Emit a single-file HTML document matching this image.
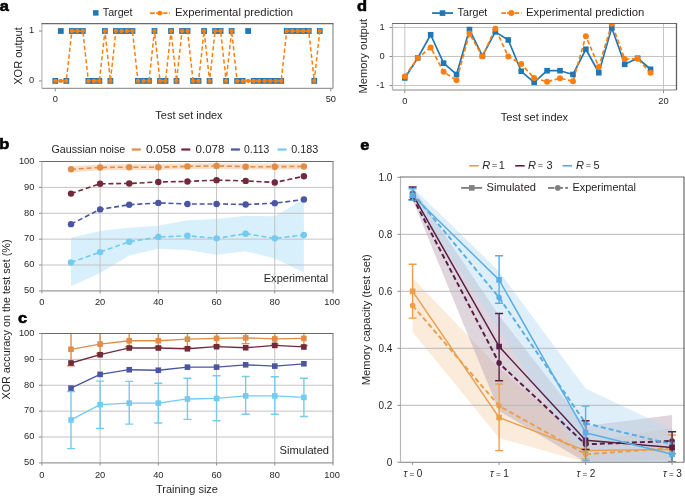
<!DOCTYPE html>
<html><head><meta charset="utf-8"><style>
html,body{margin:0;padding:0;background:#fff;}
svg{display:block;will-change:transform;}
text{font-family:"Liberation Sans",sans-serif;}
</style></head><body>
<svg width="685" height="496" viewBox="0 0 685 496">
<rect width="685" height="496" fill="#fff"/>
<line x1="41.90" y1="88.30" x2="333.00" y2="88.30" stroke="#9a9a9a" stroke-width="1.15" />
<line x1="41.90" y1="23.60" x2="41.90" y2="88.30" stroke="#b5b5b5" stroke-width="1.15" />
<line x1="333.00" y1="23.60" x2="333.00" y2="88.30" stroke="#8a8a8a" stroke-width="1.15" />
<line x1="41.40" y1="23.60" x2="333.50" y2="23.60" stroke="#6a6a6a" stroke-width="1.15" />
<line x1="38.90" y1="80.90" x2="41.90" y2="80.90" stroke="#8a8a8a" stroke-width="1" />
<text x="34.20" y="83.30" font-size="9.3" text-anchor="end" fill="#231f20" font-weight="normal" >0</text>
<line x1="38.90" y1="31.00" x2="41.90" y2="31.00" stroke="#8a8a8a" stroke-width="1" />
<text x="34.20" y="33.40" font-size="9.3" text-anchor="end" fill="#231f20" font-weight="normal" >1</text>
<line x1="55.30" y1="88.30" x2="55.30" y2="91.30" stroke="#8a8a8a" stroke-width="1" />
<text x="55.30" y="102.30" font-size="9.3" text-anchor="middle" fill="#231f20" font-weight="normal" >0</text>
<line x1="330.80" y1="88.30" x2="330.80" y2="91.30" stroke="#8a8a8a" stroke-width="1" />
<text x="330.80" y="102.30" font-size="9.3" text-anchor="middle" fill="#231f20" font-weight="normal" >50</text>
<rect x="52.40" y="78.00" width="5.8" height="5.8" fill="#1f77b4"/>
<rect x="57.91" y="28.10" width="5.8" height="5.8" fill="#1f77b4"/>
<rect x="63.42" y="78.00" width="5.8" height="5.8" fill="#1f77b4"/>
<rect x="68.93" y="28.10" width="5.8" height="5.8" fill="#1f77b4"/>
<rect x="74.44" y="28.10" width="5.8" height="5.8" fill="#1f77b4"/>
<rect x="79.95" y="28.10" width="5.8" height="5.8" fill="#1f77b4"/>
<rect x="85.46" y="78.00" width="5.8" height="5.8" fill="#1f77b4"/>
<rect x="90.97" y="78.00" width="5.8" height="5.8" fill="#1f77b4"/>
<rect x="96.48" y="78.00" width="5.8" height="5.8" fill="#1f77b4"/>
<rect x="101.99" y="28.10" width="5.8" height="5.8" fill="#1f77b4"/>
<rect x="107.50" y="78.00" width="5.8" height="5.8" fill="#1f77b4"/>
<rect x="113.01" y="28.10" width="5.8" height="5.8" fill="#1f77b4"/>
<rect x="118.52" y="28.10" width="5.8" height="5.8" fill="#1f77b4"/>
<rect x="124.03" y="28.10" width="5.8" height="5.8" fill="#1f77b4"/>
<rect x="129.54" y="28.10" width="5.8" height="5.8" fill="#1f77b4"/>
<rect x="135.05" y="78.00" width="5.8" height="5.8" fill="#1f77b4"/>
<rect x="140.56" y="78.00" width="5.8" height="5.8" fill="#1f77b4"/>
<rect x="146.07" y="78.00" width="5.8" height="5.8" fill="#1f77b4"/>
<rect x="151.58" y="28.10" width="5.8" height="5.8" fill="#1f77b4"/>
<rect x="157.09" y="78.00" width="5.8" height="5.8" fill="#1f77b4"/>
<rect x="162.60" y="78.00" width="5.8" height="5.8" fill="#1f77b4"/>
<rect x="168.11" y="28.10" width="5.8" height="5.8" fill="#1f77b4"/>
<rect x="173.62" y="78.00" width="5.8" height="5.8" fill="#1f77b4"/>
<rect x="179.13" y="28.10" width="5.8" height="5.8" fill="#1f77b4"/>
<rect x="184.64" y="28.10" width="5.8" height="5.8" fill="#1f77b4"/>
<rect x="190.15" y="78.00" width="5.8" height="5.8" fill="#1f77b4"/>
<rect x="195.66" y="78.00" width="5.8" height="5.8" fill="#1f77b4"/>
<rect x="201.17" y="28.10" width="5.8" height="5.8" fill="#1f77b4"/>
<rect x="206.68" y="78.00" width="5.8" height="5.8" fill="#1f77b4"/>
<rect x="212.19" y="28.10" width="5.8" height="5.8" fill="#1f77b4"/>
<rect x="217.70" y="28.10" width="5.8" height="5.8" fill="#1f77b4"/>
<rect x="223.21" y="78.00" width="5.8" height="5.8" fill="#1f77b4"/>
<rect x="228.72" y="28.10" width="5.8" height="5.8" fill="#1f77b4"/>
<rect x="234.23" y="78.00" width="5.8" height="5.8" fill="#1f77b4"/>
<rect x="239.74" y="78.00" width="5.8" height="5.8" fill="#1f77b4"/>
<rect x="245.25" y="28.10" width="5.8" height="5.8" fill="#1f77b4"/>
<rect x="250.76" y="78.00" width="5.8" height="5.8" fill="#1f77b4"/>
<rect x="256.27" y="78.00" width="5.8" height="5.8" fill="#1f77b4"/>
<rect x="261.78" y="78.00" width="5.8" height="5.8" fill="#1f77b4"/>
<rect x="267.29" y="78.00" width="5.8" height="5.8" fill="#1f77b4"/>
<rect x="272.80" y="78.00" width="5.8" height="5.8" fill="#1f77b4"/>
<rect x="278.31" y="78.00" width="5.8" height="5.8" fill="#1f77b4"/>
<rect x="283.82" y="28.10" width="5.8" height="5.8" fill="#1f77b4"/>
<rect x="289.33" y="28.10" width="5.8" height="5.8" fill="#1f77b4"/>
<rect x="294.84" y="28.10" width="5.8" height="5.8" fill="#1f77b4"/>
<rect x="300.35" y="28.10" width="5.8" height="5.8" fill="#1f77b4"/>
<rect x="305.86" y="28.10" width="5.8" height="5.8" fill="#1f77b4"/>
<rect x="311.37" y="78.00" width="5.8" height="5.8" fill="#1f77b4"/>
<rect x="316.88" y="28.10" width="5.8" height="5.8" fill="#1f77b4"/>
<polyline points="55.30,80.90 60.81,80.90 66.32,80.90 71.83,31.00 77.34,31.00 82.85,31.00 88.36,80.90 93.87,80.90 99.38,80.90 104.89,31.00 110.40,80.90 115.91,31.00 121.42,31.00 126.93,31.00 132.44,31.00 137.95,80.90 143.46,80.90 148.97,80.90 154.48,31.00 159.99,80.90 165.50,80.90 171.01,31.00 176.52,80.90 182.03,31.00 187.54,31.00 193.05,80.90 198.56,80.90 204.07,31.00 209.58,80.90 215.09,31.00 220.60,31.00 226.11,80.90 231.62,31.00 237.13,80.90 242.64,80.90 248.15,80.90 253.66,80.90 259.17,80.90 264.68,80.90 270.19,80.90 275.70,80.90 281.21,80.90 286.72,31.00 292.23,31.00 297.74,31.00 303.25,31.00 308.76,31.00 314.27,80.90 319.78,31.00" fill="none" stroke="#ff7f0e" stroke-width="1.5" stroke-dasharray="4.2,2.5" stroke-linejoin="round" />
<circle cx="55.30" cy="80.90" r="2.15" fill="#ff7f0e"/>
<circle cx="60.81" cy="80.90" r="2.15" fill="#ff7f0e"/>
<circle cx="66.32" cy="80.90" r="2.15" fill="#ff7f0e"/>
<circle cx="71.83" cy="31.00" r="2.15" fill="#ff7f0e"/>
<circle cx="77.34" cy="31.00" r="2.15" fill="#ff7f0e"/>
<circle cx="82.85" cy="31.00" r="2.15" fill="#ff7f0e"/>
<circle cx="88.36" cy="80.90" r="2.15" fill="#ff7f0e"/>
<circle cx="93.87" cy="80.90" r="2.15" fill="#ff7f0e"/>
<circle cx="99.38" cy="80.90" r="2.15" fill="#ff7f0e"/>
<circle cx="104.89" cy="31.00" r="2.15" fill="#ff7f0e"/>
<circle cx="110.40" cy="80.90" r="2.15" fill="#ff7f0e"/>
<circle cx="115.91" cy="31.00" r="2.15" fill="#ff7f0e"/>
<circle cx="121.42" cy="31.00" r="2.15" fill="#ff7f0e"/>
<circle cx="126.93" cy="31.00" r="2.15" fill="#ff7f0e"/>
<circle cx="132.44" cy="31.00" r="2.15" fill="#ff7f0e"/>
<circle cx="137.95" cy="80.90" r="2.15" fill="#ff7f0e"/>
<circle cx="143.46" cy="80.90" r="2.15" fill="#ff7f0e"/>
<circle cx="148.97" cy="80.90" r="2.15" fill="#ff7f0e"/>
<circle cx="154.48" cy="31.00" r="2.15" fill="#ff7f0e"/>
<circle cx="159.99" cy="80.90" r="2.15" fill="#ff7f0e"/>
<circle cx="165.50" cy="80.90" r="2.15" fill="#ff7f0e"/>
<circle cx="171.01" cy="31.00" r="2.15" fill="#ff7f0e"/>
<circle cx="176.52" cy="80.90" r="2.15" fill="#ff7f0e"/>
<circle cx="182.03" cy="31.00" r="2.15" fill="#ff7f0e"/>
<circle cx="187.54" cy="31.00" r="2.15" fill="#ff7f0e"/>
<circle cx="193.05" cy="80.90" r="2.15" fill="#ff7f0e"/>
<circle cx="198.56" cy="80.90" r="2.15" fill="#ff7f0e"/>
<circle cx="204.07" cy="31.00" r="2.15" fill="#ff7f0e"/>
<circle cx="209.58" cy="80.90" r="2.15" fill="#ff7f0e"/>
<circle cx="215.09" cy="31.00" r="2.15" fill="#ff7f0e"/>
<circle cx="220.60" cy="31.00" r="2.15" fill="#ff7f0e"/>
<circle cx="226.11" cy="80.90" r="2.15" fill="#ff7f0e"/>
<circle cx="231.62" cy="31.00" r="2.15" fill="#ff7f0e"/>
<circle cx="237.13" cy="80.90" r="2.15" fill="#ff7f0e"/>
<circle cx="242.64" cy="80.90" r="2.15" fill="#ff7f0e"/>
<circle cx="248.15" cy="80.90" r="2.15" fill="#ff7f0e"/>
<circle cx="253.66" cy="80.90" r="2.15" fill="#ff7f0e"/>
<circle cx="259.17" cy="80.90" r="2.15" fill="#ff7f0e"/>
<circle cx="264.68" cy="80.90" r="2.15" fill="#ff7f0e"/>
<circle cx="270.19" cy="80.90" r="2.15" fill="#ff7f0e"/>
<circle cx="275.70" cy="80.90" r="2.15" fill="#ff7f0e"/>
<circle cx="281.21" cy="80.90" r="2.15" fill="#ff7f0e"/>
<circle cx="286.72" cy="31.00" r="2.15" fill="#ff7f0e"/>
<circle cx="292.23" cy="31.00" r="2.15" fill="#ff7f0e"/>
<circle cx="297.74" cy="31.00" r="2.15" fill="#ff7f0e"/>
<circle cx="303.25" cy="31.00" r="2.15" fill="#ff7f0e"/>
<circle cx="308.76" cy="31.00" r="2.15" fill="#ff7f0e"/>
<circle cx="314.27" cy="80.90" r="2.15" fill="#ff7f0e"/>
<circle cx="319.78" cy="31.00" r="2.15" fill="#ff7f0e"/>
<text x="189.00" y="118.90" font-size="11" text-anchor="middle" fill="#231f20" font-weight="normal" >Test set index</text>
<text x="22.00" y="56.00" font-size="11" text-anchor="middle" fill="#231f20" font-weight="normal" transform="rotate(-90 22 56)">XOR output</text>
<rect x="93.05" y="10.15" width="5.5" height="5.5" fill="#1f77b4"/>
<text x="102.80" y="16.20" font-size="10.7" text-anchor="start" fill="#231f20" font-weight="normal" >Target</text>
<line x1="149.90" y1="13.20" x2="154.70" y2="13.20" stroke="#ff7f0e" stroke-width="1.8" />
<line x1="156.20" y1="13.20" x2="162.60" y2="13.20" stroke="#ff7f0e" stroke-width="1.8" />
<line x1="163.30" y1="13.20" x2="167.50" y2="13.20" stroke="#ff7f0e" stroke-width="1.8" />
<line x1="169.20" y1="13.20" x2="169.90" y2="13.20" stroke="#ff7f0e" stroke-width="1.8" />
<circle cx="159.80" cy="13.20" r="2.4" fill="#ff7f0e"/>
<text x="175.00" y="16.40" font-size="10.8" text-anchor="start" fill="#231f20" font-weight="normal" textLength="118" lengthAdjust="spacingAndGlyphs" >Experimental prediction</text>
<text transform="translate(-0.3,11.0) scale(1.06,1)" font-size="15.5" font-weight="bold" fill="#000" stroke="#000" stroke-width="0.6" stroke-linejoin="round">a</text>
<line x1="392.50" y1="85.50" x2="676.50" y2="85.50" stroke="#c4c4c4" stroke-width="1" />
<line x1="392.50" y1="56.50" x2="676.50" y2="56.50" stroke="#c4c4c4" stroke-width="1" />
<line x1="392.50" y1="27.50" x2="676.50" y2="27.50" stroke="#c4c4c4" stroke-width="1" />
<line x1="404.80" y1="23.50" x2="404.80" y2="90.00" stroke="#c4c4c4" stroke-width="1" />
<line x1="663.50" y1="23.50" x2="663.50" y2="90.00" stroke="#c4c4c4" stroke-width="1" />
<line x1="392.50" y1="90.00" x2="676.50" y2="90.00" stroke="#b0b0b0" stroke-width="1.15" />
<line x1="392.50" y1="23.50" x2="392.50" y2="90.00" stroke="#b5b5b5" stroke-width="1.15" />
<line x1="676.50" y1="23.50" x2="676.50" y2="90.00" stroke="#606060" stroke-width="1.15" />
<line x1="392.00" y1="23.50" x2="677.00" y2="23.50" stroke="#6a6a6a" stroke-width="1.15" />
<line x1="389.50" y1="85.50" x2="392.50" y2="85.50" stroke="#8a8a8a" stroke-width="1" />
<text x="384.60" y="88.10" font-size="9.3" text-anchor="end" fill="#231f20" font-weight="normal" >-1</text>
<line x1="389.50" y1="56.50" x2="392.50" y2="56.50" stroke="#8a8a8a" stroke-width="1" />
<text x="384.60" y="59.10" font-size="9.3" text-anchor="end" fill="#231f20" font-weight="normal" >0</text>
<line x1="389.50" y1="27.50" x2="392.50" y2="27.50" stroke="#8a8a8a" stroke-width="1" />
<text x="384.60" y="30.10" font-size="9.3" text-anchor="end" fill="#231f20" font-weight="normal" >1</text>
<line x1="404.80" y1="90.00" x2="404.80" y2="93.00" stroke="#8a8a8a" stroke-width="1" />
<text x="404.80" y="104.30" font-size="9.3" text-anchor="middle" fill="#231f20" font-weight="normal" >0</text>
<line x1="663.50" y1="90.00" x2="663.50" y2="93.00" stroke="#8a8a8a" stroke-width="1" />
<text x="663.50" y="104.30" font-size="9.3" text-anchor="middle" fill="#231f20" font-weight="normal" >20</text>
<clipPath id="cd"><rect x="392.5" y="23.5" width="284.0" height="66.5"/></clipPath>
<g clip-path="url(#cd)">
<polyline points="404.80,77.96 417.74,57.95 430.67,34.75 443.61,63.17 456.54,74.48 469.48,29.53 482.41,55.92 495.35,31.85 508.28,39.97 521.22,71.29 534.15,82.31 547.09,70.71 560.02,70.71 572.96,74.48 585.89,49.25 598.83,72.74 611.76,27.79 624.70,64.33 637.63,58.24 650.57,69.26" fill="none" stroke="#1f77b4" stroke-width="1.7" stroke-linejoin="round" />
<polyline points="404.80,76.51 417.74,57.95 430.67,47.51 443.61,71.87 456.54,80.28 469.48,33.59 482.41,56.21 495.35,28.66 508.28,56.50 521.22,64.04 534.15,77.96 547.09,81.73 560.02,78.25 572.96,81.15 585.89,36.20 598.83,66.94 611.76,23.73 624.70,59.11 637.63,58.82 650.57,72.74" fill="none" stroke="#ff7f0e" stroke-width="1.7" stroke-dasharray="4.5,2.5" stroke-linejoin="round" />
<rect x="402.00" y="75.16" width="5.6" height="5.6" fill="#1f77b4"/>
<rect x="414.94" y="55.15" width="5.6" height="5.6" fill="#1f77b4"/>
<rect x="427.87" y="31.95" width="5.6" height="5.6" fill="#1f77b4"/>
<rect x="440.81" y="60.37" width="5.6" height="5.6" fill="#1f77b4"/>
<rect x="453.74" y="71.68" width="5.6" height="5.6" fill="#1f77b4"/>
<rect x="466.68" y="26.73" width="5.6" height="5.6" fill="#1f77b4"/>
<rect x="479.61" y="53.12" width="5.6" height="5.6" fill="#1f77b4"/>
<rect x="492.55" y="29.05" width="5.6" height="5.6" fill="#1f77b4"/>
<rect x="505.48" y="37.17" width="5.6" height="5.6" fill="#1f77b4"/>
<rect x="518.42" y="68.49" width="5.6" height="5.6" fill="#1f77b4"/>
<rect x="531.35" y="79.51" width="5.6" height="5.6" fill="#1f77b4"/>
<rect x="544.29" y="67.91" width="5.6" height="5.6" fill="#1f77b4"/>
<rect x="557.22" y="67.91" width="5.6" height="5.6" fill="#1f77b4"/>
<rect x="570.16" y="71.68" width="5.6" height="5.6" fill="#1f77b4"/>
<rect x="583.09" y="46.45" width="5.6" height="5.6" fill="#1f77b4"/>
<rect x="596.03" y="69.94" width="5.6" height="5.6" fill="#1f77b4"/>
<rect x="608.96" y="24.99" width="5.6" height="5.6" fill="#1f77b4"/>
<rect x="621.90" y="61.53" width="5.6" height="5.6" fill="#1f77b4"/>
<rect x="634.83" y="55.44" width="5.6" height="5.6" fill="#1f77b4"/>
<rect x="647.77" y="66.46" width="5.6" height="5.6" fill="#1f77b4"/>
<circle cx="404.80" cy="76.51" r="3.0" fill="#ff7f0e"/>
<circle cx="417.74" cy="57.95" r="3.0" fill="#ff7f0e"/>
<circle cx="430.67" cy="47.51" r="3.0" fill="#ff7f0e"/>
<circle cx="443.61" cy="71.87" r="3.0" fill="#ff7f0e"/>
<circle cx="456.54" cy="80.28" r="3.0" fill="#ff7f0e"/>
<circle cx="469.48" cy="33.59" r="3.0" fill="#ff7f0e"/>
<circle cx="482.41" cy="56.21" r="3.0" fill="#ff7f0e"/>
<circle cx="495.35" cy="28.66" r="3.0" fill="#ff7f0e"/>
<circle cx="508.28" cy="56.50" r="3.0" fill="#ff7f0e"/>
<circle cx="521.22" cy="64.04" r="3.0" fill="#ff7f0e"/>
<circle cx="534.15" cy="77.96" r="3.0" fill="#ff7f0e"/>
<circle cx="547.09" cy="81.73" r="3.0" fill="#ff7f0e"/>
<circle cx="560.02" cy="78.25" r="3.0" fill="#ff7f0e"/>
<circle cx="572.96" cy="81.15" r="3.0" fill="#ff7f0e"/>
<circle cx="585.89" cy="36.20" r="3.0" fill="#ff7f0e"/>
<circle cx="598.83" cy="66.94" r="3.0" fill="#ff7f0e"/>
<circle cx="611.76" cy="23.73" r="3.0" fill="#ff7f0e"/>
<circle cx="624.70" cy="59.11" r="3.0" fill="#ff7f0e"/>
<circle cx="637.63" cy="58.82" r="3.0" fill="#ff7f0e"/>
<circle cx="650.57" cy="72.74" r="3.0" fill="#ff7f0e"/>
</g>
<line x1="392.50" y1="90.00" x2="676.50" y2="90.00" stroke="#b0b0b0" stroke-width="1.15" />
<line x1="392.50" y1="23.50" x2="392.50" y2="90.00" stroke="#b5b5b5" stroke-width="1.15" />
<line x1="676.50" y1="23.50" x2="676.50" y2="90.00" stroke="#606060" stroke-width="1.15" />
<line x1="392.00" y1="23.50" x2="677.00" y2="23.50" stroke="#6a6a6a" stroke-width="1.15" />
<text x="534.50" y="120.50" font-size="11" text-anchor="middle" fill="#231f20" font-weight="normal" >Test set index</text>
<text x="367.00" y="56.20" font-size="11" text-anchor="middle" fill="#231f20" font-weight="normal" textLength="74.5" lengthAdjust="spacingAndGlyphs" transform="rotate(-90 367 56.2)">Memory output</text>
<line x1="432.10" y1="13.10" x2="453.00" y2="13.10" stroke="#1f77b4" stroke-width="1.8" />
<rect x="439.70" y="10.30" width="5.6" height="5.6" fill="#1f77b4"/>
<text x="457.60" y="16.20" font-size="10.7" text-anchor="start" fill="#231f20" font-weight="normal" >Target</text>
<line x1="501.40" y1="13.10" x2="506.00" y2="13.10" stroke="#ff7f0e" stroke-width="1.8" />
<line x1="507.00" y1="13.10" x2="514.00" y2="13.10" stroke="#ff7f0e" stroke-width="1.8" />
<line x1="514.40" y1="13.10" x2="519.00" y2="13.10" stroke="#ff7f0e" stroke-width="1.8" />
<line x1="521.00" y1="13.10" x2="521.60" y2="13.10" stroke="#ff7f0e" stroke-width="1.8" />
<circle cx="511.30" cy="13.10" r="3.0" fill="#ff7f0e"/>
<text x="526.00" y="16.40" font-size="10.8" text-anchor="start" fill="#231f20" font-weight="normal" textLength="118.3" lengthAdjust="spacingAndGlyphs" >Experimental prediction</text>
<text transform="translate(356.9,11.3) scale(1.06,1)" font-size="15.5" font-weight="bold" fill="#000" stroke="#000" stroke-width="0.6" stroke-linejoin="round">d</text>
<polygon points="71.01,237.85 100.12,231.12 129.23,227.75 158.34,225.68 187.45,220.25 216.56,218.95 245.67,215.85 274.78,216.37 303.89,199.03 303.89,272.53 274.78,258.55 245.67,251.30 216.56,254.67 187.45,250.01 158.34,248.72 129.23,255.44 100.12,273.04 71.01,286.24" fill="#d3eefb" fill-opacity="0.9" stroke="none"/>
<polygon points="71.01,165.90 100.12,164.61 129.23,164.35 158.34,164.35 187.45,163.57 216.56,163.05 245.67,163.83 274.78,163.83 303.89,163.57 303.89,169.26 274.78,169.52 245.67,169.52 216.56,168.75 187.45,169.26 158.34,170.04 129.23,170.04 100.12,170.30 71.01,172.37" fill="#f6dcc4" fill-opacity="0.9" stroke="none"/>
<line x1="41.90" y1="265.02" x2="333.00" y2="265.02" stroke="#c4c4c4" stroke-width="1" />
<line x1="41.90" y1="239.14" x2="333.00" y2="239.14" stroke="#c4c4c4" stroke-width="1" />
<line x1="41.90" y1="213.26" x2="333.00" y2="213.26" stroke="#c4c4c4" stroke-width="1" />
<line x1="41.90" y1="187.38" x2="333.00" y2="187.38" stroke="#c4c4c4" stroke-width="1" />
<line x1="100.12" y1="161.50" x2="100.12" y2="290.90" stroke="#c4c4c4" stroke-width="1" />
<line x1="158.34" y1="161.50" x2="158.34" y2="290.90" stroke="#c4c4c4" stroke-width="1" />
<line x1="216.56" y1="161.50" x2="216.56" y2="290.90" stroke="#c4c4c4" stroke-width="1" />
<line x1="274.78" y1="161.50" x2="274.78" y2="290.90" stroke="#c4c4c4" stroke-width="1" />
<polyline points="71.01,169.26 100.12,167.45 129.23,167.19 158.34,167.19 187.45,166.42 216.56,165.90 245.67,166.68 274.78,166.68 303.89,166.42" fill="none" stroke="#e08d4a" stroke-width="1.6" stroke-dasharray="5,2.8" stroke-linejoin="round" />
<circle cx="71.01" cy="169.26" r="3.2" fill="#e08d4a"/>
<circle cx="100.12" cy="167.45" r="3.2" fill="#e08d4a"/>
<circle cx="129.23" cy="167.19" r="3.2" fill="#e08d4a"/>
<circle cx="158.34" cy="167.19" r="3.2" fill="#e08d4a"/>
<circle cx="187.45" cy="166.42" r="3.2" fill="#e08d4a"/>
<circle cx="216.56" cy="165.90" r="3.2" fill="#e08d4a"/>
<circle cx="245.67" cy="166.68" r="3.2" fill="#e08d4a"/>
<circle cx="274.78" cy="166.68" r="3.2" fill="#e08d4a"/>
<circle cx="303.89" cy="166.42" r="3.2" fill="#e08d4a"/>
<polyline points="71.01,193.59 100.12,183.76 129.23,183.50 158.34,181.95 187.45,181.43 216.56,180.13 245.67,180.91 274.78,182.46 303.89,176.25" fill="none" stroke="#702a3b" stroke-width="1.6" stroke-dasharray="5,2.8" stroke-linejoin="round" />
<circle cx="71.01" cy="193.59" r="3.2" fill="#702a3b"/>
<circle cx="100.12" cy="183.76" r="3.2" fill="#702a3b"/>
<circle cx="129.23" cy="183.50" r="3.2" fill="#702a3b"/>
<circle cx="158.34" cy="181.95" r="3.2" fill="#702a3b"/>
<circle cx="187.45" cy="181.43" r="3.2" fill="#702a3b"/>
<circle cx="216.56" cy="180.13" r="3.2" fill="#702a3b"/>
<circle cx="245.67" cy="180.91" r="3.2" fill="#702a3b"/>
<circle cx="274.78" cy="182.46" r="3.2" fill="#702a3b"/>
<circle cx="303.89" cy="176.25" r="3.2" fill="#702a3b"/>
<polyline points="71.01,224.13 100.12,209.38 129.23,204.72 158.34,202.91 187.45,203.94 216.56,203.94 245.67,204.46 274.78,203.17 303.89,199.54" fill="none" stroke="#4a56a2" stroke-width="1.6" stroke-dasharray="5,2.8" stroke-linejoin="round" />
<circle cx="71.01" cy="224.13" r="3.2" fill="#4a56a2"/>
<circle cx="100.12" cy="209.38" r="3.2" fill="#4a56a2"/>
<circle cx="129.23" cy="204.72" r="3.2" fill="#4a56a2"/>
<circle cx="158.34" cy="202.91" r="3.2" fill="#4a56a2"/>
<circle cx="187.45" cy="203.94" r="3.2" fill="#4a56a2"/>
<circle cx="216.56" cy="203.94" r="3.2" fill="#4a56a2"/>
<circle cx="245.67" cy="204.46" r="3.2" fill="#4a56a2"/>
<circle cx="274.78" cy="203.17" r="3.2" fill="#4a56a2"/>
<circle cx="303.89" cy="199.54" r="3.2" fill="#4a56a2"/>
<polyline points="71.01,262.43 100.12,252.08 129.23,241.73 158.34,237.07 187.45,235.78 216.56,238.36 245.67,233.71 274.78,238.36 303.89,235.00" fill="none" stroke="#74cbf0" stroke-width="1.6" stroke-dasharray="5,2.8" stroke-linejoin="round" />
<circle cx="71.01" cy="262.43" r="3.2" fill="#74cbf0"/>
<circle cx="100.12" cy="252.08" r="3.2" fill="#74cbf0"/>
<circle cx="129.23" cy="241.73" r="3.2" fill="#74cbf0"/>
<circle cx="158.34" cy="237.07" r="3.2" fill="#74cbf0"/>
<circle cx="187.45" cy="235.78" r="3.2" fill="#74cbf0"/>
<circle cx="216.56" cy="238.36" r="3.2" fill="#74cbf0"/>
<circle cx="245.67" cy="233.71" r="3.2" fill="#74cbf0"/>
<circle cx="274.78" cy="238.36" r="3.2" fill="#74cbf0"/>
<circle cx="303.89" cy="235.00" r="3.2" fill="#74cbf0"/>
<line x1="41.90" y1="290.90" x2="333.00" y2="290.90" stroke="#9a9a9a" stroke-width="1.15" />
<line x1="41.90" y1="161.50" x2="41.90" y2="290.90" stroke="#b5b5b5" stroke-width="1.15" />
<line x1="333.00" y1="161.50" x2="333.00" y2="290.90" stroke="#8a8a8a" stroke-width="1.15" />
<line x1="41.40" y1="161.50" x2="333.50" y2="161.50" stroke="#6a6a6a" stroke-width="1.15" />
<line x1="38.90" y1="290.90" x2="41.90" y2="290.90" stroke="#8a8a8a" stroke-width="1" />
<text x="34.40" y="293.20" font-size="9.3" text-anchor="end" fill="#231f20" font-weight="normal" >50</text>
<line x1="38.90" y1="265.02" x2="41.90" y2="265.02" stroke="#8a8a8a" stroke-width="1" />
<text x="34.40" y="267.32" font-size="9.3" text-anchor="end" fill="#231f20" font-weight="normal" >60</text>
<line x1="38.90" y1="239.14" x2="41.90" y2="239.14" stroke="#8a8a8a" stroke-width="1" />
<text x="34.40" y="241.44" font-size="9.3" text-anchor="end" fill="#231f20" font-weight="normal" >70</text>
<line x1="38.90" y1="213.26" x2="41.90" y2="213.26" stroke="#8a8a8a" stroke-width="1" />
<text x="34.40" y="215.56" font-size="9.3" text-anchor="end" fill="#231f20" font-weight="normal" >80</text>
<line x1="38.90" y1="187.38" x2="41.90" y2="187.38" stroke="#8a8a8a" stroke-width="1" />
<text x="34.40" y="189.68" font-size="9.3" text-anchor="end" fill="#231f20" font-weight="normal" >90</text>
<line x1="38.90" y1="161.50" x2="41.90" y2="161.50" stroke="#8a8a8a" stroke-width="1" />
<text x="34.40" y="163.80" font-size="9.3" text-anchor="end" fill="#231f20" font-weight="normal" >100</text>
<line x1="41.90" y1="290.90" x2="41.90" y2="293.40" stroke="#8a8a8a" stroke-width="1" />
<text x="41.90" y="304.80" font-size="9.3" text-anchor="middle" fill="#231f20" font-weight="normal" >0</text>
<line x1="100.12" y1="290.90" x2="100.12" y2="293.40" stroke="#8a8a8a" stroke-width="1" />
<text x="100.12" y="304.80" font-size="9.3" text-anchor="middle" fill="#231f20" font-weight="normal" >20</text>
<line x1="158.34" y1="290.90" x2="158.34" y2="293.40" stroke="#8a8a8a" stroke-width="1" />
<text x="158.34" y="304.80" font-size="9.3" text-anchor="middle" fill="#231f20" font-weight="normal" >40</text>
<line x1="216.56" y1="290.90" x2="216.56" y2="293.40" stroke="#8a8a8a" stroke-width="1" />
<text x="216.56" y="304.80" font-size="9.3" text-anchor="middle" fill="#231f20" font-weight="normal" >60</text>
<line x1="274.78" y1="290.90" x2="274.78" y2="293.40" stroke="#8a8a8a" stroke-width="1" />
<text x="274.78" y="304.80" font-size="9.3" text-anchor="middle" fill="#231f20" font-weight="normal" >80</text>
<line x1="333.00" y1="290.90" x2="333.00" y2="293.40" stroke="#8a8a8a" stroke-width="1" />
<text x="332.10" y="304.80" font-size="9.3" text-anchor="middle" fill="#231f20" font-weight="normal" >100</text>
<text x="296.00" y="282.00" font-size="10.8" text-anchor="middle" fill="#231f20" font-weight="normal" textLength="64.5" lengthAdjust="spacingAndGlyphs" >Experimental</text>
<text x="51.50" y="153.00" font-size="11" text-anchor="start" fill="#231f20" font-weight="normal" textLength="73.8" lengthAdjust="spacingAndGlyphs" >Gaussian noise</text>
<line x1="131.80" y1="149.50" x2="140.80" y2="149.50" stroke="#e08d4a" stroke-width="2.2" />
<text x="146.00" y="153.30" font-size="11" text-anchor="start" fill="#231f20" font-weight="normal" textLength="30.0" lengthAdjust="spacingAndGlyphs" >0.058</text>
<line x1="181.30" y1="149.50" x2="190.30" y2="149.50" stroke="#702a3b" stroke-width="2.2" />
<text x="195.60" y="153.30" font-size="11" text-anchor="start" fill="#231f20" font-weight="normal" textLength="28.8" lengthAdjust="spacingAndGlyphs" >0.078</text>
<line x1="230.90" y1="149.50" x2="239.90" y2="149.50" stroke="#4a56a2" stroke-width="2.2" />
<text x="244.00" y="153.30" font-size="11" text-anchor="start" fill="#231f20" font-weight="normal" textLength="25.2" lengthAdjust="spacingAndGlyphs" >0.113</text>
<line x1="277.60" y1="149.50" x2="286.60" y2="149.50" stroke="#74cbf0" stroke-width="2.2" />
<text x="291.20" y="153.30" font-size="11" text-anchor="start" fill="#231f20" font-weight="normal" textLength="27.0" lengthAdjust="spacingAndGlyphs" >0.183</text>
<text transform="translate(-0.7,149.3) scale(1.06,1)" font-size="15.5" font-weight="bold" fill="#000" stroke="#000" stroke-width="0.6" stroke-linejoin="round">b</text>
<line x1="41.90" y1="437.02" x2="333.00" y2="437.02" stroke="#c4c4c4" stroke-width="1" />
<line x1="41.90" y1="411.14" x2="333.00" y2="411.14" stroke="#c4c4c4" stroke-width="1" />
<line x1="41.90" y1="385.26" x2="333.00" y2="385.26" stroke="#c4c4c4" stroke-width="1" />
<line x1="41.90" y1="359.38" x2="333.00" y2="359.38" stroke="#c4c4c4" stroke-width="1" />
<line x1="100.12" y1="333.50" x2="100.12" y2="462.90" stroke="#c4c4c4" stroke-width="1" />
<line x1="158.34" y1="333.50" x2="158.34" y2="462.90" stroke="#c4c4c4" stroke-width="1" />
<line x1="216.56" y1="333.50" x2="216.56" y2="462.90" stroke="#c4c4c4" stroke-width="1" />
<line x1="274.78" y1="333.50" x2="274.78" y2="462.90" stroke="#c4c4c4" stroke-width="1" />
<clipPath id="cc"><rect x="41.9" y="333.5" width="291.1" height="129.4"/></clipPath>
<g clip-path="url(#cc)">
<line x1="71.01" y1="391.47" x2="71.01" y2="448.67" stroke="#74cbf0" stroke-width="1.4" />
<line x1="67.01" y1="391.47" x2="75.01" y2="391.47" stroke="#74cbf0" stroke-width="1.4" />
<line x1="67.01" y1="448.67" x2="75.01" y2="448.67" stroke="#74cbf0" stroke-width="1.4" />
<line x1="100.12" y1="381.12" x2="100.12" y2="428.48" stroke="#74cbf0" stroke-width="1.4" />
<line x1="96.12" y1="381.12" x2="104.12" y2="381.12" stroke="#74cbf0" stroke-width="1.4" />
<line x1="96.12" y1="428.48" x2="104.12" y2="428.48" stroke="#74cbf0" stroke-width="1.4" />
<line x1="129.23" y1="381.38" x2="129.23" y2="424.08" stroke="#74cbf0" stroke-width="1.4" />
<line x1="125.23" y1="381.38" x2="133.23" y2="381.38" stroke="#74cbf0" stroke-width="1.4" />
<line x1="125.23" y1="424.08" x2="133.23" y2="424.08" stroke="#74cbf0" stroke-width="1.4" />
<line x1="158.34" y1="383.19" x2="158.34" y2="423.04" stroke="#74cbf0" stroke-width="1.4" />
<line x1="154.34" y1="383.19" x2="162.34" y2="383.19" stroke="#74cbf0" stroke-width="1.4" />
<line x1="154.34" y1="423.04" x2="162.34" y2="423.04" stroke="#74cbf0" stroke-width="1.4" />
<line x1="187.45" y1="378.27" x2="187.45" y2="419.42" stroke="#74cbf0" stroke-width="1.4" />
<line x1="183.45" y1="378.27" x2="191.45" y2="378.27" stroke="#74cbf0" stroke-width="1.4" />
<line x1="183.45" y1="419.42" x2="191.45" y2="419.42" stroke="#74cbf0" stroke-width="1.4" />
<line x1="216.56" y1="375.68" x2="216.56" y2="420.72" stroke="#74cbf0" stroke-width="1.4" />
<line x1="212.56" y1="375.68" x2="220.56" y2="375.68" stroke="#74cbf0" stroke-width="1.4" />
<line x1="212.56" y1="420.72" x2="220.56" y2="420.72" stroke="#74cbf0" stroke-width="1.4" />
<line x1="245.67" y1="376.46" x2="245.67" y2="414.25" stroke="#74cbf0" stroke-width="1.4" />
<line x1="241.67" y1="376.46" x2="249.67" y2="376.46" stroke="#74cbf0" stroke-width="1.4" />
<line x1="241.67" y1="414.25" x2="249.67" y2="414.25" stroke="#74cbf0" stroke-width="1.4" />
<line x1="274.78" y1="376.72" x2="274.78" y2="414.25" stroke="#74cbf0" stroke-width="1.4" />
<line x1="270.78" y1="376.72" x2="278.78" y2="376.72" stroke="#74cbf0" stroke-width="1.4" />
<line x1="270.78" y1="414.25" x2="278.78" y2="414.25" stroke="#74cbf0" stroke-width="1.4" />
<line x1="303.89" y1="378.27" x2="303.89" y2="416.57" stroke="#74cbf0" stroke-width="1.4" />
<line x1="299.89" y1="378.27" x2="307.89" y2="378.27" stroke="#74cbf0" stroke-width="1.4" />
<line x1="299.89" y1="416.57" x2="307.89" y2="416.57" stroke="#74cbf0" stroke-width="1.4" />
<polyline points="71.01,419.94 100.12,404.67 129.23,403.12 158.34,403.12 187.45,398.98 216.56,398.46 245.67,395.87 274.78,395.87 303.89,397.42" fill="none" stroke="#74cbf0" stroke-width="1.3" stroke-linejoin="round" />
<rect x="68.21" y="417.14" width="5.6" height="5.6" fill="#74cbf0"/>
<rect x="97.32" y="401.87" width="5.6" height="5.6" fill="#74cbf0"/>
<rect x="126.43" y="400.32" width="5.6" height="5.6" fill="#74cbf0"/>
<rect x="155.54" y="400.32" width="5.6" height="5.6" fill="#74cbf0"/>
<rect x="184.65" y="396.18" width="5.6" height="5.6" fill="#74cbf0"/>
<rect x="213.76" y="395.66" width="5.6" height="5.6" fill="#74cbf0"/>
<rect x="242.87" y="393.07" width="5.6" height="5.6" fill="#74cbf0"/>
<rect x="271.98" y="393.07" width="5.6" height="5.6" fill="#74cbf0"/>
<rect x="301.09" y="394.62" width="5.6" height="5.6" fill="#74cbf0"/>
<line x1="71.01" y1="332.21" x2="71.01" y2="365.85" stroke="#e08d4a" stroke-width="1.4" />
<line x1="67.01" y1="332.21" x2="75.01" y2="332.21" stroke="#e08d4a" stroke-width="1.4" />
<line x1="67.01" y1="365.85" x2="75.01" y2="365.85" stroke="#e08d4a" stroke-width="1.4" />
<line x1="100.12" y1="332.21" x2="100.12" y2="353.43" stroke="#e08d4a" stroke-width="1.4" />
<line x1="96.12" y1="332.21" x2="104.12" y2="332.21" stroke="#e08d4a" stroke-width="1.4" />
<line x1="96.12" y1="353.43" x2="104.12" y2="353.43" stroke="#e08d4a" stroke-width="1.4" />
<line x1="129.23" y1="332.21" x2="129.23" y2="346.70" stroke="#e08d4a" stroke-width="1.4" />
<line x1="125.23" y1="332.21" x2="133.23" y2="332.21" stroke="#e08d4a" stroke-width="1.4" />
<line x1="125.23" y1="346.70" x2="133.23" y2="346.70" stroke="#e08d4a" stroke-width="1.4" />
<line x1="158.34" y1="332.21" x2="158.34" y2="346.70" stroke="#e08d4a" stroke-width="1.4" />
<line x1="154.34" y1="332.21" x2="162.34" y2="332.21" stroke="#e08d4a" stroke-width="1.4" />
<line x1="154.34" y1="346.70" x2="162.34" y2="346.70" stroke="#e08d4a" stroke-width="1.4" />
<line x1="187.45" y1="332.21" x2="187.45" y2="347.48" stroke="#e08d4a" stroke-width="1.4" />
<line x1="183.45" y1="332.21" x2="191.45" y2="332.21" stroke="#e08d4a" stroke-width="1.4" />
<line x1="183.45" y1="347.48" x2="191.45" y2="347.48" stroke="#e08d4a" stroke-width="1.4" />
<line x1="216.56" y1="332.21" x2="216.56" y2="345.40" stroke="#e08d4a" stroke-width="1.4" />
<line x1="212.56" y1="332.21" x2="220.56" y2="332.21" stroke="#e08d4a" stroke-width="1.4" />
<line x1="212.56" y1="345.40" x2="220.56" y2="345.40" stroke="#e08d4a" stroke-width="1.4" />
<line x1="245.67" y1="332.21" x2="245.67" y2="343.59" stroke="#e08d4a" stroke-width="1.4" />
<line x1="241.67" y1="332.21" x2="249.67" y2="332.21" stroke="#e08d4a" stroke-width="1.4" />
<line x1="241.67" y1="343.59" x2="249.67" y2="343.59" stroke="#e08d4a" stroke-width="1.4" />
<line x1="274.78" y1="332.21" x2="274.78" y2="344.11" stroke="#e08d4a" stroke-width="1.4" />
<line x1="270.78" y1="332.21" x2="278.78" y2="332.21" stroke="#e08d4a" stroke-width="1.4" />
<line x1="270.78" y1="344.11" x2="278.78" y2="344.11" stroke="#e08d4a" stroke-width="1.4" />
<line x1="303.89" y1="332.21" x2="303.89" y2="345.66" stroke="#e08d4a" stroke-width="1.4" />
<line x1="299.89" y1="332.21" x2="307.89" y2="332.21" stroke="#e08d4a" stroke-width="1.4" />
<line x1="299.89" y1="345.66" x2="307.89" y2="345.66" stroke="#e08d4a" stroke-width="1.4" />
<polyline points="71.01,349.29 100.12,344.11 129.23,340.75 158.34,340.75 187.45,339.19 216.56,338.42 245.67,337.90 274.78,338.93 303.89,338.42" fill="none" stroke="#e08d4a" stroke-width="1.3" stroke-linejoin="round" />
<rect x="68.21" y="346.49" width="5.6" height="5.6" fill="#e08d4a"/>
<rect x="97.32" y="341.31" width="5.6" height="5.6" fill="#e08d4a"/>
<rect x="126.43" y="337.95" width="5.6" height="5.6" fill="#e08d4a"/>
<rect x="155.54" y="337.95" width="5.6" height="5.6" fill="#e08d4a"/>
<rect x="184.65" y="336.39" width="5.6" height="5.6" fill="#e08d4a"/>
<rect x="213.76" y="335.62" width="5.6" height="5.6" fill="#e08d4a"/>
<rect x="242.87" y="335.10" width="5.6" height="5.6" fill="#e08d4a"/>
<rect x="271.98" y="336.13" width="5.6" height="5.6" fill="#e08d4a"/>
<rect x="301.09" y="335.62" width="5.6" height="5.6" fill="#e08d4a"/>
<polyline points="71.01,363.00 100.12,354.72 129.23,347.99 158.34,347.99 187.45,348.77 216.56,346.70 245.67,347.73 274.78,345.40 303.89,346.96" fill="none" stroke="#702a3b" stroke-width="1.3" stroke-linejoin="round" />
<rect x="68.21" y="360.20" width="5.6" height="5.6" fill="#702a3b"/>
<rect x="97.32" y="351.92" width="5.6" height="5.6" fill="#702a3b"/>
<rect x="126.43" y="345.19" width="5.6" height="5.6" fill="#702a3b"/>
<rect x="155.54" y="345.19" width="5.6" height="5.6" fill="#702a3b"/>
<rect x="184.65" y="345.97" width="5.6" height="5.6" fill="#702a3b"/>
<rect x="213.76" y="343.90" width="5.6" height="5.6" fill="#702a3b"/>
<rect x="242.87" y="344.93" width="5.6" height="5.6" fill="#702a3b"/>
<rect x="271.98" y="342.60" width="5.6" height="5.6" fill="#702a3b"/>
<rect x="301.09" y="344.16" width="5.6" height="5.6" fill="#702a3b"/>
<polyline points="71.01,388.11 100.12,374.39 129.23,369.73 158.34,370.25 187.45,367.14 216.56,367.14 245.67,364.81 274.78,366.11 303.89,363.78" fill="none" stroke="#4a56a2" stroke-width="1.3" stroke-linejoin="round" />
<rect x="68.21" y="385.31" width="5.6" height="5.6" fill="#4a56a2"/>
<rect x="97.32" y="371.59" width="5.6" height="5.6" fill="#4a56a2"/>
<rect x="126.43" y="366.93" width="5.6" height="5.6" fill="#4a56a2"/>
<rect x="155.54" y="367.45" width="5.6" height="5.6" fill="#4a56a2"/>
<rect x="184.65" y="364.34" width="5.6" height="5.6" fill="#4a56a2"/>
<rect x="213.76" y="364.34" width="5.6" height="5.6" fill="#4a56a2"/>
<rect x="242.87" y="362.01" width="5.6" height="5.6" fill="#4a56a2"/>
<rect x="271.98" y="363.31" width="5.6" height="5.6" fill="#4a56a2"/>
<rect x="301.09" y="360.98" width="5.6" height="5.6" fill="#4a56a2"/>
</g>
<line x1="41.90" y1="462.90" x2="333.00" y2="462.90" stroke="#9a9a9a" stroke-width="1.15" />
<line x1="41.90" y1="333.50" x2="41.90" y2="462.90" stroke="#b5b5b5" stroke-width="1.15" />
<line x1="333.00" y1="333.50" x2="333.00" y2="462.90" stroke="#8a8a8a" stroke-width="1.15" />
<line x1="41.40" y1="333.50" x2="333.50" y2="333.50" stroke="#6a6a6a" stroke-width="1.15" />
<line x1="38.90" y1="462.90" x2="41.90" y2="462.90" stroke="#8a8a8a" stroke-width="1" />
<text x="34.40" y="465.20" font-size="9.3" text-anchor="end" fill="#231f20" font-weight="normal" >50</text>
<line x1="38.90" y1="437.02" x2="41.90" y2="437.02" stroke="#8a8a8a" stroke-width="1" />
<text x="34.40" y="439.32" font-size="9.3" text-anchor="end" fill="#231f20" font-weight="normal" >60</text>
<line x1="38.90" y1="411.14" x2="41.90" y2="411.14" stroke="#8a8a8a" stroke-width="1" />
<text x="34.40" y="413.44" font-size="9.3" text-anchor="end" fill="#231f20" font-weight="normal" >70</text>
<line x1="38.90" y1="385.26" x2="41.90" y2="385.26" stroke="#8a8a8a" stroke-width="1" />
<text x="34.40" y="387.56" font-size="9.3" text-anchor="end" fill="#231f20" font-weight="normal" >80</text>
<line x1="38.90" y1="359.38" x2="41.90" y2="359.38" stroke="#8a8a8a" stroke-width="1" />
<text x="34.40" y="361.68" font-size="9.3" text-anchor="end" fill="#231f20" font-weight="normal" >90</text>
<line x1="38.90" y1="333.50" x2="41.90" y2="333.50" stroke="#8a8a8a" stroke-width="1" />
<text x="34.40" y="335.80" font-size="9.3" text-anchor="end" fill="#231f20" font-weight="normal" >100</text>
<line x1="41.90" y1="462.90" x2="41.90" y2="465.40" stroke="#8a8a8a" stroke-width="1" />
<text x="41.90" y="477.60" font-size="9.3" text-anchor="middle" fill="#231f20" font-weight="normal" >0</text>
<line x1="100.12" y1="462.90" x2="100.12" y2="465.40" stroke="#8a8a8a" stroke-width="1" />
<text x="100.12" y="477.60" font-size="9.3" text-anchor="middle" fill="#231f20" font-weight="normal" >20</text>
<line x1="158.34" y1="462.90" x2="158.34" y2="465.40" stroke="#8a8a8a" stroke-width="1" />
<text x="158.34" y="477.60" font-size="9.3" text-anchor="middle" fill="#231f20" font-weight="normal" >40</text>
<line x1="216.56" y1="462.90" x2="216.56" y2="465.40" stroke="#8a8a8a" stroke-width="1" />
<text x="216.56" y="477.60" font-size="9.3" text-anchor="middle" fill="#231f20" font-weight="normal" >60</text>
<line x1="274.78" y1="462.90" x2="274.78" y2="465.40" stroke="#8a8a8a" stroke-width="1" />
<text x="274.78" y="477.60" font-size="9.3" text-anchor="middle" fill="#231f20" font-weight="normal" >80</text>
<line x1="333.00" y1="462.90" x2="333.00" y2="465.40" stroke="#8a8a8a" stroke-width="1" />
<text x="332.10" y="477.60" font-size="9.3" text-anchor="middle" fill="#231f20" font-weight="normal" >100</text>
<text x="304.30" y="454.20" font-size="10.8" text-anchor="middle" fill="#231f20" font-weight="normal" textLength="49.5" lengthAdjust="spacingAndGlyphs" >Simulated</text>
<text x="187.00" y="492.90" font-size="11" text-anchor="middle" fill="#231f20" font-weight="normal" >Training size</text>
<text x="9.50" y="319.50" font-size="11" text-anchor="middle" fill="#231f20" font-weight="normal" textLength="160" lengthAdjust="spacingAndGlyphs" transform="rotate(-90 9.5 319.5)">XOR accuracy on the test set (%)</text>
<text transform="translate(18.0,323.0) scale(1.06,1)" font-size="15.5" font-weight="bold" fill="#000" stroke="#000" stroke-width="0.6" stroke-linejoin="round">c</text>
<clipPath id="ce"><rect x="400.5" y="177.0" width="283.5" height="285.3"/></clipPath>
<g clip-path="url(#ce)">
<polygon points="412.60,277.90 499.10,368.25 585.60,442.35 672.10,428.10 672.10,459.45 585.60,462.30 499.10,438.07 412.60,332.06" fill="#f4d2ae" fill-opacity="0.45" stroke="none"/>
<polygon points="412.60,187.28 499.10,315.52 585.60,426.11 672.10,414.99 672.10,462.30 585.60,462.30 499.10,411.00 412.60,200.10" fill="#b8a2b4" fill-opacity="0.45" stroke="none"/>
<polygon points="412.60,187.28 499.10,271.35 585.60,388.49 672.10,429.53 672.10,462.30 585.60,462.30 499.10,329.77 412.60,200.10" fill="#b9dcf4" fill-opacity="0.45" stroke="none"/>
<line x1="400.50" y1="405.30" x2="684.00" y2="405.30" stroke="#b8b8b8" stroke-width="1" />
<line x1="400.50" y1="348.30" x2="684.00" y2="348.30" stroke="#b8b8b8" stroke-width="1" />
<line x1="400.50" y1="291.30" x2="684.00" y2="291.30" stroke="#b8b8b8" stroke-width="1" />
<line x1="400.50" y1="234.30" x2="684.00" y2="234.30" stroke="#b8b8b8" stroke-width="1" />
<polyline points="412.60,305.55 499.10,405.87 585.60,454.32 672.10,448.05" fill="none" stroke="#e8a04f" stroke-width="2.0" stroke-dasharray="5,3" stroke-linejoin="round" />
<circle cx="412.60" cy="305.55" r="2.8" fill="#e8a04f"/>
<circle cx="499.10" cy="405.87" r="2.8" fill="#e8a04f"/>
<circle cx="585.60" cy="454.32" r="2.8" fill="#e8a04f"/>
<circle cx="672.10" cy="448.05" r="2.8" fill="#e8a04f"/>
<polyline points="412.60,197.25 499.10,363.12 585.60,444.35 672.10,440.93" fill="none" stroke="#5a1f48" stroke-width="2.0" stroke-dasharray="5,3" stroke-linejoin="round" />
<circle cx="412.60" cy="197.25" r="2.8" fill="#5a1f48"/>
<circle cx="499.10" cy="363.12" r="2.8" fill="#5a1f48"/>
<circle cx="585.60" cy="444.35" r="2.8" fill="#5a1f48"/>
<circle cx="672.10" cy="440.93" r="2.8" fill="#5a1f48"/>
<polyline points="412.60,192.98 499.10,297.57 585.60,423.25 672.10,444.35" fill="none" stroke="#5aaee2" stroke-width="2.0" stroke-dasharray="5,3" stroke-linejoin="round" />
<circle cx="412.60" cy="192.98" r="2.8" fill="#5aaee2"/>
<circle cx="499.10" cy="297.57" r="2.8" fill="#5aaee2"/>
<circle cx="585.60" cy="423.25" r="2.8" fill="#5aaee2"/>
<circle cx="672.10" cy="444.35" r="2.8" fill="#5aaee2"/>
<line x1="412.60" y1="264.23" x2="412.60" y2="318.09" stroke="#e8a04f" stroke-width="1.4" />
<line x1="408.60" y1="264.23" x2="416.60" y2="264.23" stroke="#e8a04f" stroke-width="1.4" />
<line x1="408.60" y1="318.09" x2="416.60" y2="318.09" stroke="#e8a04f" stroke-width="1.4" />
<line x1="499.10" y1="383.93" x2="499.10" y2="450.62" stroke="#e8a04f" stroke-width="1.4" />
<line x1="495.10" y1="383.93" x2="503.10" y2="383.93" stroke="#e8a04f" stroke-width="1.4" />
<line x1="495.10" y1="450.62" x2="503.10" y2="450.62" stroke="#e8a04f" stroke-width="1.4" />
<line x1="585.60" y1="442.35" x2="585.60" y2="458.88" stroke="#e8a04f" stroke-width="1.4" />
<line x1="581.60" y1="442.35" x2="589.60" y2="442.35" stroke="#e8a04f" stroke-width="1.4" />
<line x1="581.60" y1="458.88" x2="589.60" y2="458.88" stroke="#e8a04f" stroke-width="1.4" />
<line x1="672.10" y1="434.94" x2="672.10" y2="462.30" stroke="#e8a04f" stroke-width="1.4" />
<line x1="668.10" y1="434.94" x2="676.10" y2="434.94" stroke="#e8a04f" stroke-width="1.4" />
<line x1="668.10" y1="462.30" x2="676.10" y2="462.30" stroke="#e8a04f" stroke-width="1.4" />
<polyline points="412.60,291.30 499.10,417.56 585.60,450.62 672.10,449.48" fill="none" stroke="#e8a04f" stroke-width="1.5" stroke-linejoin="round" />
<rect x="409.80" y="288.50" width="5.6" height="5.6" fill="#e8a04f"/>
<rect x="496.30" y="414.75" width="5.6" height="5.6" fill="#e8a04f"/>
<rect x="582.80" y="447.81" width="5.6" height="5.6" fill="#e8a04f"/>
<rect x="669.30" y="446.68" width="5.6" height="5.6" fill="#e8a04f"/>
<line x1="412.60" y1="186.99" x2="412.60" y2="199.81" stroke="#5a1f48" stroke-width="1.4" />
<line x1="408.60" y1="186.99" x2="416.60" y2="186.99" stroke="#5a1f48" stroke-width="1.4" />
<line x1="408.60" y1="199.81" x2="416.60" y2="199.81" stroke="#5a1f48" stroke-width="1.4" />
<line x1="499.10" y1="313.53" x2="499.10" y2="380.79" stroke="#5a1f48" stroke-width="1.4" />
<line x1="495.10" y1="313.53" x2="503.10" y2="313.53" stroke="#5a1f48" stroke-width="1.4" />
<line x1="495.10" y1="380.79" x2="503.10" y2="380.79" stroke="#5a1f48" stroke-width="1.4" />
<line x1="585.60" y1="420.69" x2="585.60" y2="449.48" stroke="#5a1f48" stroke-width="1.4" />
<line x1="581.60" y1="420.69" x2="589.60" y2="420.69" stroke="#5a1f48" stroke-width="1.4" />
<line x1="581.60" y1="449.48" x2="589.60" y2="449.48" stroke="#5a1f48" stroke-width="1.4" />
<line x1="672.10" y1="431.81" x2="672.10" y2="462.30" stroke="#5a1f48" stroke-width="1.4" />
<line x1="668.10" y1="431.81" x2="676.10" y2="431.81" stroke="#5a1f48" stroke-width="1.4" />
<line x1="668.10" y1="462.30" x2="676.10" y2="462.30" stroke="#5a1f48" stroke-width="1.4" />
<polyline points="412.60,194.40 499.10,346.59 585.60,440.36 672.10,447.48" fill="none" stroke="#5a1f48" stroke-width="1.5" stroke-linejoin="round" />
<rect x="409.80" y="191.60" width="5.6" height="5.6" fill="#5a1f48"/>
<rect x="496.30" y="343.79" width="5.6" height="5.6" fill="#5a1f48"/>
<rect x="582.80" y="437.56" width="5.6" height="5.6" fill="#5a1f48"/>
<rect x="669.30" y="444.68" width="5.6" height="5.6" fill="#5a1f48"/>
<line x1="412.60" y1="188.70" x2="412.60" y2="200.10" stroke="#5aaee2" stroke-width="1.4" />
<line x1="408.60" y1="188.70" x2="416.60" y2="188.70" stroke="#5aaee2" stroke-width="1.4" />
<line x1="408.60" y1="200.10" x2="416.60" y2="200.10" stroke="#5aaee2" stroke-width="1.4" />
<line x1="499.10" y1="255.68" x2="499.10" y2="303.27" stroke="#5aaee2" stroke-width="1.4" />
<line x1="495.10" y1="255.68" x2="503.10" y2="255.68" stroke="#5aaee2" stroke-width="1.4" />
<line x1="495.10" y1="303.27" x2="503.10" y2="303.27" stroke="#5aaee2" stroke-width="1.4" />
<line x1="585.60" y1="406.16" x2="585.60" y2="460.88" stroke="#5aaee2" stroke-width="1.4" />
<line x1="581.60" y1="406.16" x2="589.60" y2="406.16" stroke="#5aaee2" stroke-width="1.4" />
<line x1="581.60" y1="460.88" x2="589.60" y2="460.88" stroke="#5aaee2" stroke-width="1.4" />
<line x1="672.10" y1="453.75" x2="672.10" y2="468.00" stroke="#5aaee2" stroke-width="1.4" />
<line x1="668.10" y1="453.75" x2="676.10" y2="453.75" stroke="#5aaee2" stroke-width="1.4" />
<line x1="668.10" y1="468.00" x2="676.10" y2="468.00" stroke="#5aaee2" stroke-width="1.4" />
<polyline points="412.60,195.25 499.10,279.90 585.60,432.66 672.10,454.32" fill="none" stroke="#5aaee2" stroke-width="1.5" stroke-linejoin="round" />
<rect x="409.80" y="192.45" width="5.6" height="5.6" fill="#5aaee2"/>
<rect x="496.30" y="277.10" width="5.6" height="5.6" fill="#5aaee2"/>
<rect x="582.80" y="429.86" width="5.6" height="5.6" fill="#5aaee2"/>
<rect x="669.30" y="451.52" width="5.6" height="5.6" fill="#5aaee2"/>
</g>
<line x1="400.50" y1="462.30" x2="684.00" y2="462.30" stroke="#9a9a9a" stroke-width="1.15" />
<line x1="400.50" y1="177.00" x2="400.50" y2="462.30" stroke="#b5b5b5" stroke-width="1.15" />
<line x1="684.00" y1="177.00" x2="684.00" y2="462.30" stroke="#606060" stroke-width="1.15" />
<line x1="400.00" y1="177.00" x2="684.50" y2="177.00" stroke="#6a6a6a" stroke-width="1.15" />
<line x1="397.50" y1="462.30" x2="400.50" y2="462.30" stroke="#8a8a8a" stroke-width="1" />
<text x="392.40" y="465.90" font-size="10" text-anchor="end" fill="#231f20" font-weight="normal" >0</text>
<line x1="397.50" y1="405.30" x2="400.50" y2="405.30" stroke="#8a8a8a" stroke-width="1" />
<text x="392.40" y="408.90" font-size="10" text-anchor="end" fill="#231f20" font-weight="normal" >0.2</text>
<line x1="397.50" y1="348.30" x2="400.50" y2="348.30" stroke="#8a8a8a" stroke-width="1" />
<text x="392.40" y="351.90" font-size="10" text-anchor="end" fill="#231f20" font-weight="normal" >0.4</text>
<line x1="397.50" y1="291.30" x2="400.50" y2="291.30" stroke="#8a8a8a" stroke-width="1" />
<text x="392.40" y="294.90" font-size="10" text-anchor="end" fill="#231f20" font-weight="normal" >0.6</text>
<line x1="397.50" y1="234.30" x2="400.50" y2="234.30" stroke="#8a8a8a" stroke-width="1" />
<text x="392.40" y="237.90" font-size="10" text-anchor="end" fill="#231f20" font-weight="normal" >0.8</text>
<line x1="397.50" y1="177.30" x2="400.50" y2="177.30" stroke="#8a8a8a" stroke-width="1" />
<text x="392.40" y="180.90" font-size="10" text-anchor="end" fill="#231f20" font-weight="normal" >1.0</text>
<line x1="412.60" y1="462.30" x2="412.60" y2="464.80" stroke="#8a8a8a" stroke-width="1" />
<text x="403.60" y="477.0" font-size="10" font-style="italic" fill="#231f20">τ</text>
<text x="411.90" y="476.6" font-size="8" text-anchor="middle" fill="#231f20">=</text>
<text x="419.50" y="477.0" font-size="10" text-anchor="middle" fill="#231f20">0</text>
<line x1="499.10" y1="462.30" x2="499.10" y2="464.80" stroke="#8a8a8a" stroke-width="1" />
<text x="490.10" y="477.0" font-size="10" font-style="italic" fill="#231f20">τ</text>
<text x="498.40" y="476.6" font-size="8" text-anchor="middle" fill="#231f20">=</text>
<text x="506.00" y="477.0" font-size="10" text-anchor="middle" fill="#231f20">1</text>
<line x1="585.60" y1="462.30" x2="585.60" y2="464.80" stroke="#8a8a8a" stroke-width="1" />
<text x="576.60" y="477.0" font-size="10" font-style="italic" fill="#231f20">τ</text>
<text x="584.90" y="476.6" font-size="8" text-anchor="middle" fill="#231f20">=</text>
<text x="592.50" y="477.0" font-size="10" text-anchor="middle" fill="#231f20">2</text>
<line x1="672.10" y1="462.30" x2="672.10" y2="464.80" stroke="#8a8a8a" stroke-width="1" />
<text x="663.10" y="477.0" font-size="10" font-style="italic" fill="#231f20">τ</text>
<text x="671.40" y="476.6" font-size="8" text-anchor="middle" fill="#231f20">=</text>
<text x="679.00" y="477.0" font-size="10" text-anchor="middle" fill="#231f20">3</text>
<text x="370.00" y="319.70" font-size="11" text-anchor="middle" fill="#231f20" font-weight="normal" textLength="131" lengthAdjust="spacingAndGlyphs" transform="rotate(-90 370 319.7)">Memory capacity (test set)</text>
<line x1="469.20" y1="165.80" x2="478.70" y2="165.80" stroke="#e8a04f" stroke-width="1.6" />
<text x="482.20" y="168.9" font-size="11" font-style="italic" fill="#231f20">R</text>
<text x="494.60" y="168.4" font-size="9" text-anchor="middle" fill="#231f20">=</text>
<text x="501.75" y="168.9" font-size="11" text-anchor="middle" fill="#231f20">1</text>
<line x1="515.20" y1="165.80" x2="524.70" y2="165.80" stroke="#5a1f48" stroke-width="1.6" />
<text x="527.90" y="168.9" font-size="11" font-style="italic" fill="#231f20">R</text>
<text x="540.30" y="168.4" font-size="9" text-anchor="middle" fill="#231f20">=</text>
<text x="549.60" y="168.9" font-size="11" text-anchor="middle" fill="#231f20">3</text>
<line x1="562.50" y1="165.80" x2="572.00" y2="165.80" stroke="#5aaee2" stroke-width="1.6" />
<text x="576.00" y="168.9" font-size="11" font-style="italic" fill="#231f20">R</text>
<text x="588.40" y="168.4" font-size="9" text-anchor="middle" fill="#231f20">=</text>
<text x="596.65" y="168.9" font-size="11" text-anchor="middle" fill="#231f20">5</text>
<line x1="461.10" y1="187.90" x2="482.20" y2="187.90" stroke="#808080" stroke-width="1.9" />
<rect x="469.00" y="185.10" width="5.6" height="5.6" fill="#808080"/>
<text x="486.60" y="190.90" font-size="10.8" text-anchor="start" fill="#231f20" font-weight="normal" textLength="49.4" lengthAdjust="spacingAndGlyphs" >Simulated</text>
<line x1="548.00" y1="187.90" x2="554.50" y2="187.90" stroke="#808080" stroke-width="1.9" />
<line x1="560.00" y1="187.90" x2="563.00" y2="187.90" stroke="#808080" stroke-width="1.9" />
<line x1="565.20" y1="187.90" x2="568.00" y2="187.90" stroke="#808080" stroke-width="1.9" />
<circle cx="557.80" cy="187.90" r="2.8" fill="#808080"/>
<text x="572.50" y="190.90" font-size="10.8" text-anchor="start" fill="#231f20" font-weight="normal" textLength="63.5" lengthAdjust="spacingAndGlyphs" >Experimental</text>
<text transform="translate(360.2,150.1) scale(1.06,1)" font-size="15.5" font-weight="bold" fill="#000" stroke="#000" stroke-width="0.6" stroke-linejoin="round">e</text>
</svg></body></html>
